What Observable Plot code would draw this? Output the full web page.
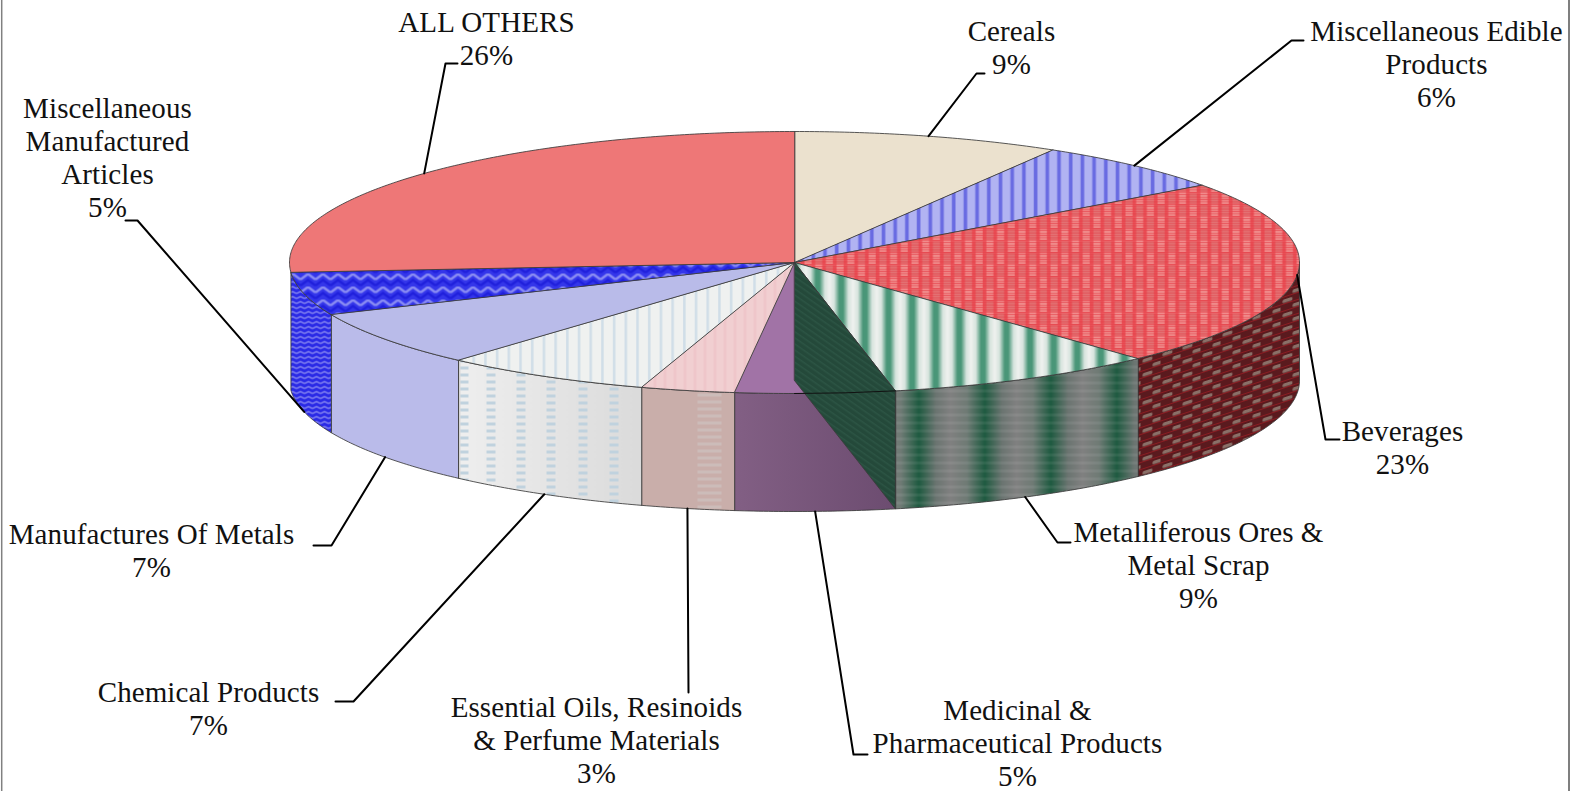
<!DOCTYPE html>
<html><head><meta charset="utf-8">
<script src="https://cdn.jsdelivr.net/npm/d3@7"></script>
<script src="https://cdn.jsdelivr.net/npm/@observablehq/plot@0.6"></script>
<style>html,body{margin:0;padding:0;background:#fff;overflow:hidden}svg{display:block}svg text{letter-spacing:.1px}</style>
</head><body><div id="chart"></div>
<script>
// ---- data, clockwise from 12 o'clock ----
const categories = ["Cereals","Miscellaneous Edible\nProducts","Beverages","Metalliferous Ores &\nMetal Scrap","Medicinal &\nPharmaceutical Products","Essential Oils, Resinoids\n& Perfume Materials","Chemical Products","Manufactures Of Metals","Miscellaneous\nManufactured\nArticles","ALL OTHERS"];
const shares = [8.55,6.4,23.15,8.7,5.1,3.0,6.7,6.9,5.3,26.2];
const percentLabels = ["9%","6%","23%","9%","5%","3%","7%","7%","5%","26%"];
// ---- label layout (page units) ----
const labelX = [1011,1436,1402,1198,1017,596,208,151,107,486];
const labelBaseline = [38,38,437.5,538.5,717,714,698.5,541,115,29];
const elbowX = [[976,984],[1291,1303],[1325,1339],[1057,1070],[853,867],[688,688],[353,335],[331,313],[137,125],[445,457]];
const elbowY = [73,40,439,542,754,692,701,545,220,63];
// ---- pie projection ----
const cx=794, cy=262, rx=505, ry=131, depth=118;
const pt=(t,dy=0)=>[cx+rx*Math.sin(t), cy-ry*Math.cos(t)+dy];
const arc=(a,b,dy=0)=>{const n=Math.max(2,Math.ceil((b-a)/0.01));return d3.range(n+1).map(i=>pt(a+(b-a)*i/n,dy));};
let acc=0;
const angles=shares.map(s=>{const a=acc/100*2*Math.PI;acc+=s;return [a,acc/100*2*Math.PI];});
const topFill=["url(#cerealsTop)","url(#edibleTop)","url(#bevTop)","url(#metalTop)","#a173a6","url(#essTop)","url(#chemTop)","#b9bbe9","url(#miscTop)","#ee7777"];
const sideFill=[null,null,"url(#bevSide)","url(#metalSide)","url(#gMed)","url(#essSide)","url(#chemSide)","#babbea","url(#miscSide)",null];
const poly=(pts,opt)=>Plot.line(pts,{x:d=>d[0],y:d=>d[1],curve:"linear-closed",...opt});
const edge={stroke:"#3a3a3a",strokeWidth:1,strokeOpacity:0.85};
const marks=[];
// frame
marks.push(Plot.ruleX([1.2],{stroke:"#808080",strokeWidth:1.5}));
marks.push(Plot.ruleX([1568.5],{stroke:"#555",strokeWidth:1.5}));
// side walls
angles.forEach(([a,b],i)=>{
  if(!sideFill[i])return;
  const lo=Math.max(a,Math.PI/2), hi=Math.min(b,1.5*Math.PI);
  if(hi<=lo)return;
  marks.push(poly([...arc(lo,hi),...arc(lo,hi,depth).reverse()],{fill:sideFill[i],...edge}));
});
// top slices
angles.forEach(([a,b],i)=>{
  marks.push(poly([[cx,cy],...arc(a,b)],{fill:topFill[i],...edge}));
});
// exposed cut face of the metal slice
const m=angles[3][1];
marks.push(poly([[cx,cy],pt(m),pt(m,depth),[cx,cy+depth]],{fill:"url(#wall)",...edge}));
marks.push(Plot.line(arc(Math.PI,m).reverse(),{x:d=>d[0],y:d=>d[1],stroke:"#111",strokeWidth:1}));
// leaders
categories.forEach((c,i)=>{
  const t=(angles[i][0]+angles[i][1])/2;
  const front=Math.cos(t)<0 && i!==2;
  const s=pt(t,front?depth:0);
  const pts=[s,...elbowX[i].map(x=>[x,elbowY[i]])];
  marks.push(Plot.line(pts,{x:d=>d[0],y:d=>d[1],stroke:"#000",strokeWidth:2}));
});
// labels
const fs=29;
const labels=categories.map((c,i)=>({t:c+"\n"+percentLabels[i],x:labelX[i],y:labelBaseline[i]-0.71*fs}));
marks.push(Plot.text(labels,{x:"x",y:"y",text:"t",textAnchor:"middle",lineAnchor:"top",fontSize:fs,lineHeight:33/fs,fontFamily:"'Liberation Serif',serif",fill:"#111"}));

const svg=Plot.plot({width:1582,height:791,margin:0,x:{domain:[0,1582],axis:null},y:{domain:[791,0],axis:null},style:{background:"#fff",overflow:"hidden"},marks});
// ---- fill patterns ----
const rows=(x,y0,y1,step,w,h,fill)=>d3.range(y0,y1,step).map(y=>`<rect x="${x}" y="${y}" width="${w}" height="${h}" fill="${fill}"/>`).join("");
const defs=`
<linearGradient id="gMetalTop" x1="0" x2="1" y1="0" y2="0"><stop offset="0" stop-color="#eef0ee"/><stop offset=".2" stop-color="#d4e2db"/><stop offset=".42" stop-color="#3f9070"/><stop offset=".58" stop-color="#3f9070"/><stop offset=".8" stop-color="#d4e2db"/><stop offset="1" stop-color="#eef0ee"/></linearGradient>
<linearGradient id="gMetalSide" x1="0" x2="1" y1="0" y2="0"><stop offset="0" stop-color="#808080"/><stop offset=".25" stop-color="#6e7a74"/><stop offset=".52" stop-color="#1e5a40"/><stop offset=".78" stop-color="#6a7470"/><stop offset="1" stop-color="#808080"/></linearGradient>
<linearGradient id="gMed" gradientUnits="userSpaceOnUse" x1="735" x2="895" y1="0" y2="0"><stop offset="0" stop-color="#825f84"/><stop offset="1" stop-color="#6c4c70"/></linearGradient>
<linearGradient id="gChem" x1="0" x2="1" y1="0" y2="0"><stop offset="0" stop-color="#eeeeee"/><stop offset="1" stop-color="#dadada"/></linearGradient>
<pattern id="cerealsTop" width="4" height="2" patternUnits="userSpaceOnUse"><rect width="4" height="2" fill="#eee5d4"/><rect y="1" width="4" height="1" fill="#e8dcc7"/></pattern>
<pattern id="edibleTop" width="11.7" height="2" patternUnits="userSpaceOnUse"><rect width="11.7" height="2" fill="#b1b3f2"/><rect x="4" width="3" height="1.5" fill="#4f51dc"/><rect x="3.4" y="0" width="4.2" height="2" fill="#6a6ce2" opacity=".5"/></pattern>
<pattern id="bevTop" width="21.4" height="24" patternUnits="userSpaceOnUse"><rect width="21.4" height="24" fill="#ee5a60"/>
 <rect x="1.5" y="13" width="7" height="10" fill="#e48a88"/><rect x="12.2" y="1" width="7" height="10" fill="#e48a88"/>
 ${rows(1.5,0.5,12,2.4,7,1.1,"#fbd0c8")}${rows(12.2,12.5,24,2.4,7,1.1,"#fbd0c8")}
 ${rows(0,1.7,24,2.4,21.4,1,"#e0353f")}</pattern>
<pattern id="bevSide" width="20" height="14" patternUnits="userSpaceOnUse" patternTransform="skewY(-18)"><rect width="20" height="14" fill="#5a1a1e"/><rect x="2" y="2" width="10" height="3.4" rx="1.5" fill="#8a7068"/><rect x="12" y="9" width="10" height="3.4" rx="1.5" fill="#8a7068"/><rect y="6" width="20" height="1" fill="#8c1c22"/><rect y="13" width="20" height="1" fill="#8c1c22"/></pattern>
<pattern id="metalTop" width="23.6" height="2" patternUnits="userSpaceOnUse" x="3"><rect width="23.6" height="2" fill="url(#gMetalTop)"/><rect y="1" width="23.6" height="1" fill="#fff" opacity=".1"/></pattern>
<pattern id="metalSide" width="66" height="8" patternUnits="userSpaceOnUse" x="884"><rect width="66" height="8" fill="url(#gMetalSide)"/><rect y="5" width="66" height="3" fill="#fff" opacity=".07"/></pattern>
<pattern id="wall" width="5" height="5" patternUnits="userSpaceOnUse" patternTransform="rotate(35)"><rect width="5" height="5" fill="#24493a"/><rect y="0" width="5" height="1.5" fill="#2c5444"/></pattern>
<pattern id="essTop" width="10" height="4" patternUnits="userSpaceOnUse"><rect width="10" height="4" fill="#f1cfd1"/><rect x="3" width="3" height="4" fill="#efc6ca"/></pattern>
<pattern id="essSide" width="93" height="7" patternUnits="userSpaceOnUse" x="643"><rect width="93" height="7" fill="#c9aeaa"/><rect x="54" y="1" width="24" height="3" fill="#ccbcb9"/></pattern>
<pattern id="chemTop" width="11.7" height="6" patternUnits="userSpaceOnUse"><rect width="11.7" height="6" fill="#eff1f0"/><rect x="4" width="2.5" height="6" fill="#d0dee8"/></pattern>
<pattern id="chemSide" width="183" height="7" patternUnits="userSpaceOnUse" x="460"><rect width="183" height="7" fill="url(#gChem)"/>${[3,30,60,90,122,153].map(x=>`<rect x="${x-4}" y="2" width="9" height="3" fill="#c0d2de"/>`).join("")}</pattern>
<pattern id="miscTop" width="15" height="13" patternUnits="userSpaceOnUse"><rect width="15" height="13" fill="#3436ea"/><path d="M0 6 L7.5 0.5 L15 6" fill="none" stroke="#8a8cf2" stroke-width="2.6"/><path d="M0 12 L7.5 6.5 L15 12" fill="none" stroke="#2020dc" stroke-width="2.6"/></pattern>
<pattern id="miscSide" width="8" height="5" patternUnits="userSpaceOnUse"><rect width="8" height="5" fill="#2a2ae6"/><path d="M0 3 L4 1 L8 3" fill="none" stroke="#a8a8f4" stroke-width="1.1"/></pattern>`;
const holder=document.createElementNS("http://www.w3.org/2000/svg","defs");
holder.innerHTML=defs;
svg.insertBefore(holder,svg.firstChild);
document.getElementById("chart").appendChild(svg);
</script></body></html>
